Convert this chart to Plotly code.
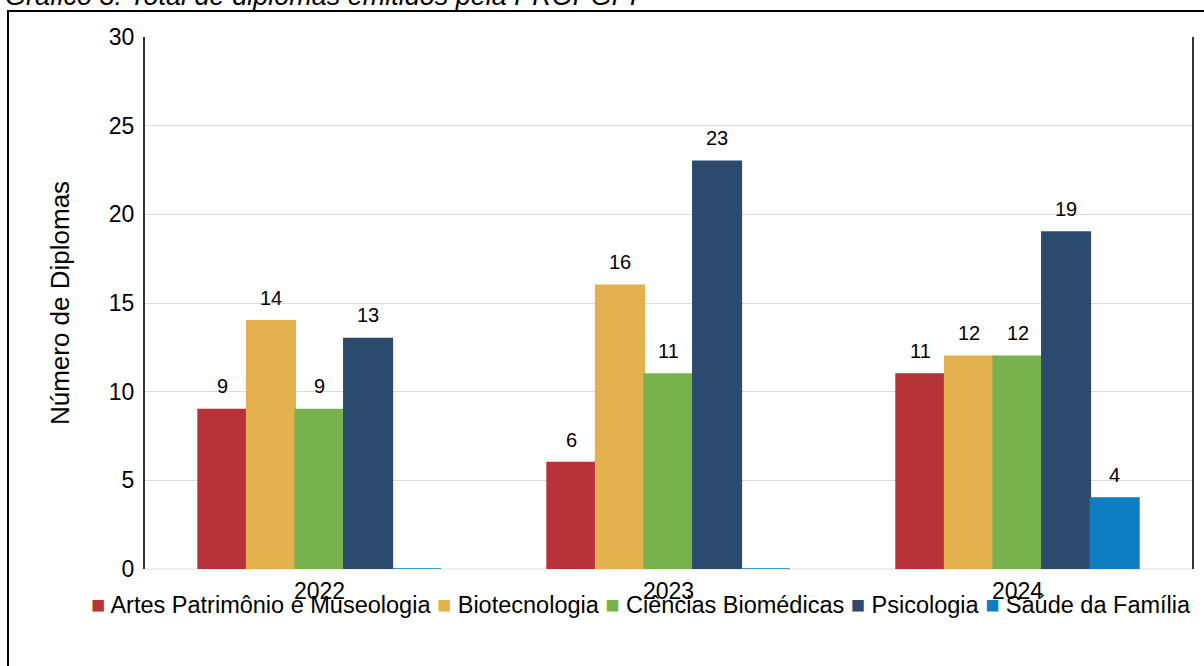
import plotly.graph_objects as go

YEARS = ["2022", "2023", "2024"]
COURSES = [
    "Artes Patrimônio e Museologia",
    "Biotecnologia",
    "Ciências Biomédicas",
    "Psicologia",
    "Saúde da Família",
]
ARTES = [9, 6, 11]
BIOTEC = [14, 16, 12]
BIOMED = [9, 11, 12]
PSICO = [13, 23, 19]
SAUDE = [0, 0, 4]

SERIES = [ARTES, BIOTEC, BIOMED, PSICO, SAUDE]
BAR_COLORS = ["#b73338", "#e2b04c", "#77b24c", "#2c4a6d", "#0f7dc2"]

FONT = "Arial, Liberation Sans, sans-serif"
BLACK = "#000000"

# plot area in pixels: x 145..1192, y 37..569
W, H = 1204, 666
L, R, T, B = 145, 12, 37, 97
PW, PH = W - L - R, H - T - B
BARGAP = 0.304


def px_x(x):
    return (x - L) / PW


def px_y(y):
    return (H - B - y) / PH


fig = go.Figure()
for name, vals, color in zip(COURSES, SERIES, BAR_COLORS):
    fig.add_trace(go.Bar(
        name=name, x=YEARS, y=vals,
        marker=dict(color=color, line=dict(width=1.5, color=color)),
        showlegend=False,
    ))

# value labels above the bars (x given as category index)
bar_w = PW / len(YEARS) * (1 - BARGAP) / len(SERIES)
labels = []
for i, vals in enumerate(SERIES):
    for j, v in enumerate(vals):
        if v == 0:
            continue
        labels.append(dict(
            text=str(v), x=j, y=v, xref="x", yref="y",
            xshift=(i - (len(SERIES) - 1) / 2) * bar_w, yshift=10,
            xanchor="center", yanchor="bottom", showarrow=False,
            font=dict(family=FONT, size=20, color=BLACK),
        ))

# legend row, drawn like the office-suite legend (square + name)
legend_text = " ".join(
    f"<span style='color:{c}'>■</span> {n}" for n, c in zip(COURSES, BAR_COLORS)
)
labels.append(dict(
    text=legend_text, xref="paper", yref="paper",
    x=px_x(641), y=px_y(605), xanchor="center", yanchor="middle",
    showarrow=False, font=dict(family=FONT, size=23.5, color=BLACK),
))

# caption above the frame (cut by the page edge, as in the source)
labels.append(dict(
    text="<i>Gráfico 3: Total de diplomas emitidos pela PROPGPI</i>",
    xref="paper", yref="paper", x=px_x(3), y=px_y(13),
    xanchor="left", yanchor="bottom", showarrow=False,
    font=dict(family=FONT, size=27, color=BLACK),
))

fig.update_layout(
    width=W, height=H,
    paper_bgcolor="white", plot_bgcolor="white",
    margin=dict(l=L, r=R, t=T, b=B, autoexpand=False),
    font=dict(family=FONT, size=23, color=BLACK),
    barmode="group",
    bargap=BARGAP,
    bargroupgap=0,
    xaxis=dict(
        type="category", range=[-0.5, len(YEARS) - 0.5],
        showgrid=False, showline=False, zeroline=False, ticks="",
        ticklabelstandoff=6,
        tickfont=dict(family=FONT, size=23, color=BLACK),
    ),
    yaxis=dict(
        range=[0, 30], dtick=5,
        showgrid=True, gridcolor="#dcdcdc", gridwidth=1,
        zeroline=False,
        showline=True, mirror=True, linecolor="#333333", linewidth=2,
        ticks="", ticklabelstandoff=4,
        tickfont=dict(family=FONT, size=23, color=BLACK),
        title=dict(text="Número de Diplomas", standoff=32,
                   font=dict(family=FONT, size=26, color=BLACK)),
    ),
    shapes=[
        dict(type="rect", xref="paper", yref="paper",
             x0=px_x(8), x1=px_x(1230), y0=px_y(700), y1=px_y(11),
             line=dict(color=BLACK, width=2), fillcolor="rgba(0,0,0,0)",
             layer="below"),
        dict(type="line", xref="paper", yref="paper",
             x0=0, x1=1, y0=0, y1=0,
             line=dict(color="#dcdcdc", width=1), layer="below"),
    ],
    annotations=labels,
)

fig.write_html("out.html", config={"displayModeBar": False},
               post_script="document.body.style.margin='0';")
